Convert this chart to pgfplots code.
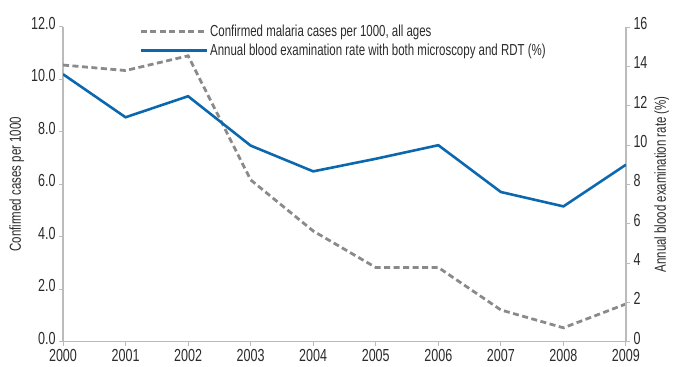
\documentclass[border=0pt]{standalone}
\usepackage{pgfplots}
\pgfplotsset{compat=1.18}
\usepackage{fontspec}
\setmainfont[FakeStretch=0.72]{Liberation Sans}
\definecolor{blu}{HTML}{0B67AE}
\definecolor{dgray}{HTML}{8A8A8A}
\definecolor{axg}{HTML}{BBBBBB}
\definecolor{txt}{HTML}{2B2B2B}
\begin{document}
\begin{tikzpicture}
\pgfplotsset{
  every axis/.append style={
    scale only axis, width=563bp, height=314.7bp,
    xmin=2000, xmax=2009,
    tick label style={text=txt, font=\fontsize{17.5}{19}\selectfont},
    yticklabel style={yshift=3.5bp},
    label style={text=txt, font=\fontsize{16}{18}\selectfont},
    axis line style={axg, line width=1.2pt},
    tick style={axg, line width=1pt},
    /pgf/number format/assume math mode=true,
    major tick length=4bp,
  }
}
\begin{axis}[
  axis x line*=bottom, axis y line*=left,
  ymin=0, ymax=12, ytick={0,2,...,12},
  yticklabel style={/pgf/number format/.cd, fixed, fixed zerofill, precision=1},
  xtick={2000,...,2009},
  xticklabel style={/pgf/number format/.cd, 1000 sep={}, /tikz/.cd, yshift=-1.5bp, inner ysep=2bp},
  tick align=outside,
  ylabel={Confirmed cases per 1000},
]
\addplot[dgray, line width=2.8pt, dash pattern=on 6bp off 3.5bp] coordinates {
(2000,10.55) (2001,10.34) (2002,10.9) (2003,6.17) (2004,4.22) (2005,2.83) (2006,2.83) (2007,1.21) (2008,0.53) (2009,1.44)};
\end{axis}
\begin{axis}[
  axis x line=none, axis y line*=right,
  ymin=0, ymax=16, ytick={0,2,...,16},
  tick align=outside,
  ylabel={Annual blood examination rate (\%)},
  legend style={draw=none, fill=none, at={(axis description cs:0.13,1.02)}, anchor=north west,
    font=\fontsize{16}{18}\selectfont, text=txt, row sep=2bp},
  legend cell align=left,
  legend image code/.code={\draw[#1] (0cm,0cm) -- (62bp,0cm); \path (0,0) -- (66bp,0);},
]
\addlegendimage{dgray, line width=2.8pt, dash pattern=on 6bp off 3.5bp}
\addlegendentry{Confirmed malaria cases per 1000, all ages}
\addplot[blu, line width=2.6pt] coordinates {
(2000,13.6) (2001,11.41) (2002,12.48) (2003,9.97) (2004,8.66) (2005,9.3) (2006,9.99) (2007,7.61) (2008,6.88) (2009,9.0)};
\addlegendentry{Annual blood examination rate with both microscopy and RDT (\%)}
\end{axis}
\pgfresetboundingbox
\useasboundingbox (-63bp,-25.3bp) rectangle (611bp,341.7bp);
\end{tikzpicture}
\end{document}
